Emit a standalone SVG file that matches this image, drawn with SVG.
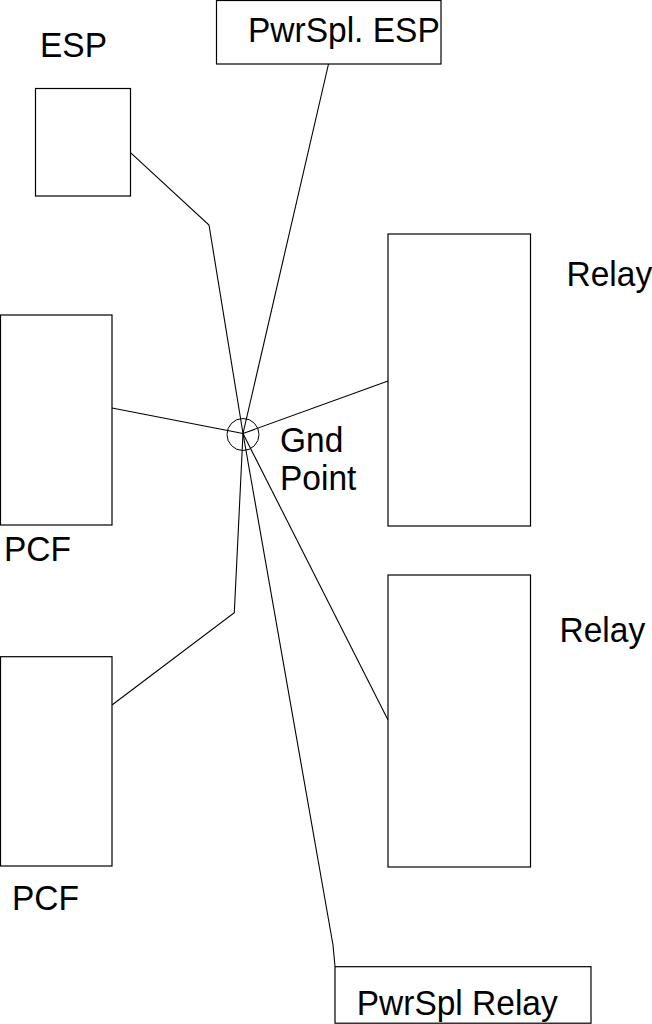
<svg xmlns="http://www.w3.org/2000/svg" width="652" height="1024" viewBox="0 0 652 1024">
<style>
.box{fill:#fff;stroke:#000;stroke-width:1.2}
.lbl{font-family:"Liberation Sans",Arial,sans-serif;font-size:33.5px;fill:#000}
.wire{fill:none;stroke:#000;stroke-width:1.1}
</style>
<rect width="652" height="1024" fill="#fff"/>
<g id="connectors">
<polyline class="wire" points="130.5,152.7 209,225 243,433.5"/>
<line class="wire" x1="328.5" y1="64" x2="243" y2="433.5"/>
<line class="wire" x1="112" y1="408" x2="243" y2="433.5"/>
<line class="wire" x1="388" y1="381" x2="243" y2="433.5"/>
<line class="wire" x1="243" y1="433.5" x2="388" y2="720"/>
<polyline class="wire" points="243,433.5 333,945 335,966.5"/>
<polyline class="wire" points="243,433.5 234.3,612.7 112,705"/>
</g>
<g id="gnd">
<circle cx="243" cy="434.5" r="16" fill="none" stroke="#000" stroke-width="1"/>
<text class="lbl" transform="translate(280,451.5) scale(1,1.07)">Gnd</text>
<text class="lbl" transform="translate(280,490) scale(1,1.07)">Point</text>
</g>
<g id="esp">
<rect class="box" x="35.5" y="88.5" width="95" height="107.5"/>
<text class="lbl" transform="translate(40,57.3) scale(1,1.07)">ESP</text>
</g>
<g id="pwrspl-esp">
<rect class="box" x="216.5" y="0.5" width="224.5" height="63.5"/>
<text class="lbl" transform="translate(248,42.3) scale(1,1.07)">PwrSpl. ESP</text>
</g>
<g id="pcf1">
<rect class="box" x="0.5" y="315" width="111.5" height="210"/>
<text class="lbl" transform="translate(4,561) scale(1,1.07)">PCF</text>
</g>
<g id="pcf2">
<rect class="box" x="0.5" y="656.7" width="111.5" height="209.3"/>
<text class="lbl" transform="translate(12,910) scale(1,1.07)">PCF</text>
</g>
<g id="relay1">
<rect class="box" x="388" y="234" width="142.5" height="292"/>
<text class="lbl" transform="translate(566.5,285.7) scale(1,1.07)">Relay</text>
</g>
<g id="relay2">
<rect class="box" x="388" y="575" width="142.5" height="292"/>
<text class="lbl" transform="translate(559.5,642) scale(1,1.07)">Relay</text>
</g>
<g id="pwrspl-relay">
<rect class="box" x="335" y="966.7" width="256" height="56.5"/>
<text class="lbl" transform="translate(356.7,1015) scale(1,1.07)">PwrSpl Relay</text>
</g>
</svg>
